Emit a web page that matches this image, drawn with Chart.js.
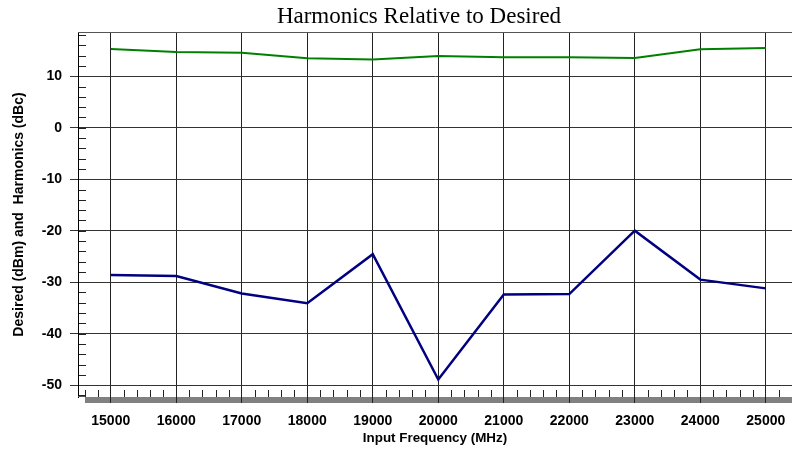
<!DOCTYPE html>
<html>
<head>
<meta charset="utf-8">
<script src="https://cdn.jsdelivr.net/npm/chart.js@4.4.1/dist/chart.umd.min.js"></script>
<style>
  html, body { margin: 0; padding: 0; background: #fff; }
  #wrap { width: 792px; height: 451px; }
</style>
</head>
<body>
<div id="wrap"><canvas id="chart"></canvas></div>
<script>
const frequencies = [15000, 16000, 17000, 18000, 19000, 20000, 21000, 22000, 23000, 24000, 25000];
const desired = [15.3, 14.7, 14.55, 13.5, 13.25, 13.95, 13.7, 13.7, 13.55, 15.25, 15.5];
const harmonics = [-28.6, -28.8, -32.2, -34.1, -24.55, -48.9, -32.4, -32.3, -20.0, -29.5, -31.2];

const titleText = 'Harmonics Relative to Desired';
const xTitle = 'Input Frequency (MHz)';
const yTitle = 'Desired (dBm) and  Harmonics (dBc)';

const axisFont = { family: 'Liberation Sans, Arial, sans-serif', weight: 'bold' };

// frame, minor ticks, grey strip under the plot, title
const decor = {
  id: 'decor',
  beforeDraw(chart) {
    const { ctx, chartArea: a, scales: { x, y } } = chart;
    ctx.save();
    ctx.fillStyle = '#808080';
    ctx.fillRect(a.left + 7, a.bottom, chart.width - a.left - 7, 6);
    ctx.strokeStyle = '#222';
    ctx.lineWidth = 1;
    ctx.beginPath();
    for (let v = 14600; v <= 25400; v += 200) {
      if (v % 1000 === 0) continue;
      const px = Math.round(x.getPixelForValue(v)) + 0.5;
      ctx.moveTo(px, a.bottom - 7);
      ctx.lineTo(px, a.bottom);
    }
    for (let v = -52; v <= 18; v += 2) {
      const py = Math.round(y.getPixelForValue(v)) + 0.5;
      ctx.moveTo(a.left, py);
      ctx.lineTo(a.left + 8, py);
    }
    ctx.stroke();
    ctx.restore();
  },
  afterDraw(chart) {
    const { ctx, chartArea: a } = chart;
    ctx.save();
    ctx.strokeStyle = '#555';
    ctx.lineWidth = 1;
    ctx.beginPath();
    ctx.moveTo(a.left, a.top + 0.5);
    ctx.lineTo(chart.width, a.top + 0.5);
    ctx.moveTo(a.left, a.bottom - 0.5);
    ctx.lineTo(a.left + 7, a.bottom - 0.5);
    ctx.stroke();
    ctx.fillStyle = '#000';
    ctx.font = '23px "Liberation Serif", "Times New Roman", serif';
    ctx.textAlign = 'center';
    ctx.textBaseline = 'middle';
    ctx.fillText(titleText, 419, 17);
    ctx.restore();
  }
};

new Chart(document.getElementById('chart'), {
  type: 'line',
  data: {
    datasets: [
      {
        label: 'Desired',
        data: frequencies.map((f, i) => ({ x: f, y: desired[i] })),
        borderColor: '#008000',
        borderWidth: 2,
        pointRadius: 0,
        tension: 0,
      },
      {
        label: 'Harmonics',
        data: frequencies.map((f, i) => ({ x: f, y: harmonics[i] })),
        borderColor: '#000080',
        borderWidth: 2.5,
        pointRadius: 0,
        tension: 0,
      },
    ],
  },
  options: {
    responsive: true,
    maintainAspectRatio: false,
    animation: false,
    layout: { padding: { top: 32, right: 0, left: 0, bottom: 0 } },
    plugins: { legend: { display: false }, title: { display: false }, tooltip: { enabled: false } },
    scales: {
      x: {
        type: 'linear',
        min: 14500,
        max: 25400,
        afterFit: (s) => { s.height = 54; },
        afterBuildTicks: (s) => { s.ticks = frequencies.map((v) => ({ value: v })); },
        ticks: { padding: 4, maxRotation: 0, autoSkip: false, color: '#000', font: { ...axisFont, size: 14, lineHeight: 2.06 }, callback: (v) => String(v) },
        grid: { color: '#222', tickLength: 6, drawOnChartArea: true },
        border: { display: false },
        title: { display: true, text: xTitle, color: '#000', font: { ...axisFont, size: 13.4 }, padding: { top: 0, bottom: 5 } },
      },
      y: {
        min: -52.3,
        max: 18.6,
        afterFit: (s) => { s.width = 78; },
        ticks: { stepSize: 10, includeBounds: false, padding: 8, color: '#000', font: { ...axisFont, size: 14 } },
        grid: { color: '#333', tickLength: 8 },
        border: { display: true, color: '#000', width: 1 },
        title: { display: true, text: yTitle, color: '#000', font: { ...axisFont, size: 14 }, padding: { top: 11, bottom: 0 } },
      },
    },
  },
  plugins: [decor],
});
</script>
</body>
</html>
